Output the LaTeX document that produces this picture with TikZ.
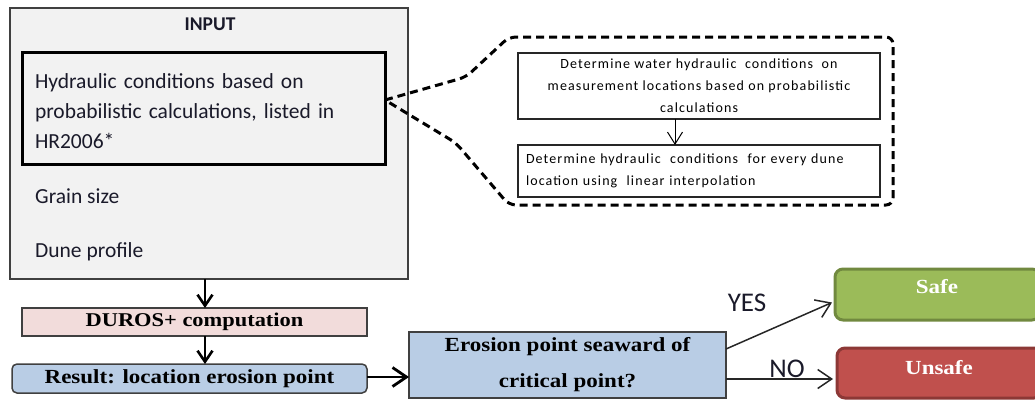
\documentclass[tikz,border=0pt]{standalone}
\usepackage{fontspec}
\setmainfont{Carlito}
\newfontfamily\cambria[FakeStretch=1.15]{Liberation Serif}
\newfontfamily\smallfont[LetterSpace=8]{Carlito}
\usetikzlibrary{arrows.meta,calc}
\definecolor{inputfill}{HTML}{F2F2F2}
\definecolor{edge}{HTML}{404040}
\definecolor{durosfill}{HTML}{F2DCDB}
\definecolor{bluefill}{HTML}{B9CDE5}
\definecolor{safefill}{HTML}{9BBB59}
\definecolor{safeedge}{HTML}{71893F}
\definecolor{unsafefill}{HTML}{C0504D}
\definecolor{unsafeedge}{HTML}{8C3836}
\definecolor{textc}{HTML}{1A1A2A}
\begin{document}
\begin{tikzpicture}[x=1pt,y=-1pt,
  box/.style={draw=edge, anchor=north west, inner sep=0pt, outer sep=0pt},
  bodytext/.style={text=textc, font=\fontsize{21.5}{30}\selectfont, inner sep=0pt, anchor=west},
  serifbold/.style={font=\cambria\bfseries\fontsize{19.5}{22}\selectfont, text=black},
  bigarrow/.style={line width=2.6pt, -{Straight Barb[length=11pt,width=15pt]}},
  wideearrow/.style={line width=2.8pt, -{Straight Barb[length=14pt,width=19pt]}},
  thinarrow/.style={line width=1.5pt, draw=black!85, -{Straight Barb[length=14pt,width=19pt]}},
  callarrow/.style={line width=1pt, -{Straight Barb[length=12pt,width=15pt]}},
  callout/.style={line width=3pt, dash pattern=on 8pt off 5pt, rounded corners=7pt},
  innerbox/.style={draw=black!85, line width=1.3pt, anchor=north west, inner sep=0pt, outer sep=0pt,
    font=\smallfont\fontsize{14}{22}\selectfont, text=black},
  verdict/.style={line width=3pt, rounded corners=8pt, anchor=north west, inner sep=0pt, outer sep=0pt},
  verdicttext/.style={font=\cambria\bfseries\fontsize{20}{22}\selectfont, text=white}
]
\useasboundingbox (0,0) rectangle (1035,399);

% INPUT block
\node[box, fill=inputfill, line width=1.3pt, minimum width=398pt, minimum height=271pt] (input) at (10,8) {};
\node[font=\bfseries\fontsize{19.5}{22}\selectfont, text=textc] (inputlbl) at (210,24) {INPUT};
\node[box, draw=black, line width=3pt, minimum width=363pt, minimum height=112pt,
      text width=337pt, inner xsep=13pt, align=left, text=textc, text height=21pt,
      font=\fontsize{21.5}{30}\selectfont] (hyd) at (22,52)
  {Hydraulic conditions based on\\probabilistic calculations, listed in\\HR2006*};
\node[bodytext] (grain) at (35,196) {Grain size};
\node[bodytext] (dune) at (35,252) {Dune profile};

% computation chain
\node[box, fill=durosfill, line width=1.5pt, minimum width=345pt, minimum height=28pt, serifbold] (duros) at (22,308) {DUROS+ computation};
\node[box, fill=bluefill, line width=1.5pt, rounded corners=5pt, minimum width=355pt, minimum height=29pt, serifbold,
      font=\cambria\bfseries\fontsize{20}{22}\selectfont] (result) at (12,364) {Result: location erosion point};
\node[box, fill=bluefill, line width=1.5pt, minimum width=317pt, minimum height=66pt, align=center,
      font=\cambria\bfseries\fontsize{20}{36}\selectfont] (erosion) at (409,332)
  {Erosion point seaward of\\critical point?};

\draw[bigarrow] ([xshift=-4pt]input.south) -- ([xshift=-4pt]input.south |- duros.north);
\draw[bigarrow] ([xshift=-4pt]input.south |- duros.south) -- ([xshift=-4pt]input.south |- result.north);
\draw[wideearrow] ([yshift=1.5pt]result.east) -- ([yshift=1.5pt]erosion.west |- result.east);

% verdicts
\node[verdict, draw=safeedge, fill=safefill, minimum width=205pt, minimum height=51pt] (safe) at (835,269) {};
\node[verdicttext] (safetxt) at (937,287) {Safe};
\node[verdict, draw=unsafeedge, fill=unsafefill, minimum width=205pt, minimum height=50pt] (unsafe) at (837,348) {};
\node[verdicttext] (unsafetxt) at (939,368) {Unsafe};

\draw[thinarrow] ([yshift=16pt]erosion.east) -- ([xshift=-3pt,yshift=-8pt]safe.west);
\draw[thinarrow] (erosion.east |- 0,379) coordinate (nostart) -- ([xshift=-4pt]unsafe.west |- nostart);
\node[font=\fontsize{27}{30}\selectfont, text=textc] (yes) at (747,303) {YES};
\node[font=\fontsize{27}{30}\selectfont, text=textc] (no) at (787,369) {NO};

% callout
\node[innerbox, minimum width=362pt, minimum height=66pt, align=center] (b1) at (518,53)
  {Determine water hydraulic \ conditions \ on\\measurement locations based on probabilistic\\calculations};
\node[innerbox, minimum width=362pt, minimum height=52pt, text width=346pt, inner xsep=8pt, align=left] (b2) at (518,145)
  {Determine hydraulic \ conditions \ for every dune\\location using \ linear interpolation};
\draw[callarrow] ([xshift=-24pt]b1.south) -- ([xshift=-24pt]b2.north);

\coordinate (tip) at ([yshift=8pt]hyd.east);
\coordinate (c1) at (466,77);
\coordinate (c2) at (509,37);
\coordinate (c3) at (893,37);
\coordinate (c4) at (893,205);
\coordinate (c5) at (509,205);
\coordinate (c6) at (456,143);
\draw[callout] (tip) -- (c1) -- (c2) -- (c3) -- (c4) -- (c5) -- (c6) -- (tip);
\end{tikzpicture}
\end{document}
